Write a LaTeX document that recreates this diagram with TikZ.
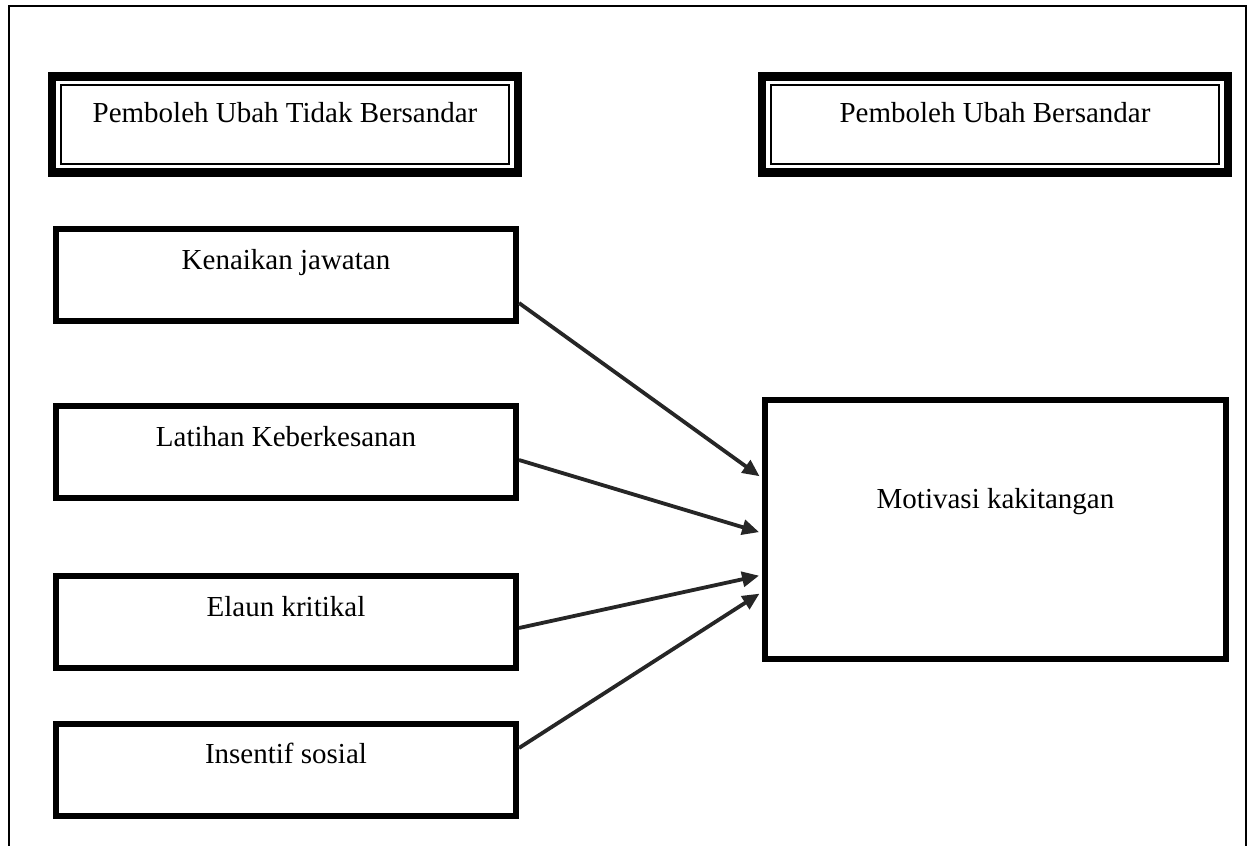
\documentclass[tikz,border=0pt]{standalone}
\usepackage{fontspec}
\setmainfont{Liberation Serif}
\usetikzlibrary{arrows.meta}
\definecolor{arrowgray}{HTML}{262626}
\begin{document}
\begin{tikzpicture}[x=0.5pt, y=-0.5pt,
    txt/.style={font=\fontsize{14.5}{17}\selectfont, inner sep=0pt},
    headbox/.style={txt, draw, line width=4.4pt, minimum width=233pt,
      text height=22.9pt, text depth=25.4pt,
      path picture={\draw[line width=1pt]
        ([shift={(4.3pt,-4.3pt)}]path picture bounding box.north west) rectangle
        ([shift={(-4.3pt,4.3pt)}]path picture bounding box.south east);}},
    varbox/.style={txt, draw, line width=3pt, minimum width=230pt,
      text height=20pt, text depth=26pt},
    link/.style={draw=arrowgray, line width=1.9pt, shorten >=1.5pt,
      -{Triangle[length=8.5pt, width=7.5pt]}}]

  \useasboundingbox (0,0) rectangle (1249,846);

  % --- bingkai luar ---
  \draw[line width=1pt] (8.5,846) |- (1245.5,6) -- (1245.5,846);

  % --- tajuk ---
  \node[headbox] (hdrTB) at (285,124.5) {Pemboleh Ubah Tidak Bersandar};
  \node[headbox] (hdrB) at (995,124.5) {Pemboleh Ubah Bersandar};

  % --- pemboleh ubah tidak bersandar ---
  \node[varbox] (ken) at (286,275) {Kenaikan jawatan};
  \node[varbox] (lat) at (286,452) {Latihan Keberkesanan};
  \node[varbox] (ela) at (286,622) {Elaun kritikal};
  \node[varbox] (ins) at (286,769.5) {Insentif sosial};

  % --- pemboleh ubah bersandar ---
  \node[txt, draw, line width=3pt, minimum width=230.5pt,
    text height=54pt, text depth=75.5pt] (mot) at (995.5,529.5)
    {Motivasi kakitangan};

  % --- anak panah ---
  \draw[link] ([yshift=-14pt]ken.east) -- ([yshift=25.75pt]mot.west);
  \draw[link] ([yshift=-4pt]lat.east) -- ([yshift=-1.75pt]mot.west);
  \draw[link] ([yshift=-3pt]ela.east) -- ([yshift=-22.75pt]mot.west);
  \draw[link] ([yshift=10.75pt]ins.east) -- ([yshift=-31.25pt]mot.west);

\end{tikzpicture}
\end{document}
